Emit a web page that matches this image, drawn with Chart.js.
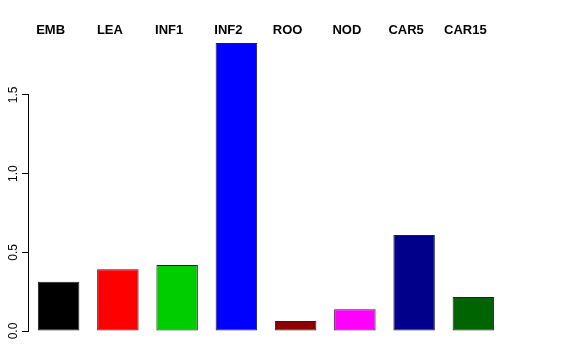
<!DOCTYPE html>
<html>
<head>
<meta charset="utf-8">
<script src="https://cdn.jsdelivr.net/npm/chart.js@4/dist/chart.umd.min.js"></script>
<style>
  html, body { margin: 0; padding: 0; background: #fff; }
  #wrap { width: 576px; height: 360px; }
</style>
</head>
<body>
<div id="wrap"><canvas id="chartBars"></canvas></div>
<script>
const categories = ['EMB', 'LEA', 'INF1', 'INF2', 'ROO', 'NOD', 'CAR5', 'CAR15'];
const values = [0.313, 0.392, 0.42, 1.83, 0.064, 0.138, 0.61, 0.216];
const barColors = ['#000000', '#FF0000', '#00CD00', '#0000FF', '#8B0000', '#FF00FF', '#00008B', '#006400'];
const yTicks = [0, 0.5, 1, 1.5];
const yTickLabels = ['0.0', '0.5', '1.0', '1.5'];

Chart.defaults.color = '#000';
Chart.defaults.font.family = '"Liberation Sans", Arial, sans-serif';

const chartBars = document.getElementById('chartBars');

// R style axis: line only from first to last tick, labels on top
const rStyle = {
    id: 'rStyle',
    afterDraw(chart) {
        const ctx = chart.ctx;
        const y = chart.scales.y;
        const x = chart.scales.x;
        ctx.save();
        ctx.strokeStyle = '#000';
        ctx.lineWidth = 1;
        ctx.beginPath();
        ctx.moveTo(y.right - 0.5, y.getPixelForValue(yTicks[0]));
        ctx.lineTo(y.right - 0.5, y.getPixelForValue(yTicks[yTicks.length - 1]));
        ctx.stroke();

        ctx.font = 'bold 13px "Liberation Sans", Arial, sans-serif';
        ctx.fillStyle = '#000';
        ctx.textAlign = 'center';
        ctx.textBaseline = 'middle';
        categories.forEach((c, i) => {
            ctx.fillText(c, x.getPixelForValue(i) - 8, 30);
        });
        ctx.restore();
    }
};

let chart = new Chart(chartBars, {
    type: 'bar',
    data: {
        labels: categories,
        datasets: [
            {
                data: values,
                backgroundColor: barColors,
                borderColor: '#222',
                borderWidth: 1,
                borderSkipped: false,
                barPercentage: 0.7,
                categoryPercentage: 1
            }
        ]
    },
    options: {
        responsive: true,
        maintainAspectRatio: false,
        animation: false,
        layout: {
            padding: { left: 0, right: 73, top: 32, bottom: 29 }
        },
        plugins: {
            legend: { display: false },
            tooltip: { enabled: false }
        },
        scales: {
            x: {
                display: false
            },
            y: {
                min: 0,
                max: 1.9,
                afterFit: (s) => { s.width = 29; },
                afterBuildTicks: (s) => { s.ticks = yTicks.map(v => ({ value: v })); },
                border: { display: false },
                grid: {
                    drawOnChartArea: false,
                    drawTicks: true,
                    tickLength: 7,
                    color: '#000'
                },
                ticks: {
                    padding: 0,
                    minRotation: 90,
                    maxRotation: 90,
                    crossAlign: 'center',
                    font: { size: 12 },
                    callback: (v, i) => yTickLabels[i]
                }
            }
        }
    },
    plugins: [rStyle]
});
</script>
</body>
</html>
